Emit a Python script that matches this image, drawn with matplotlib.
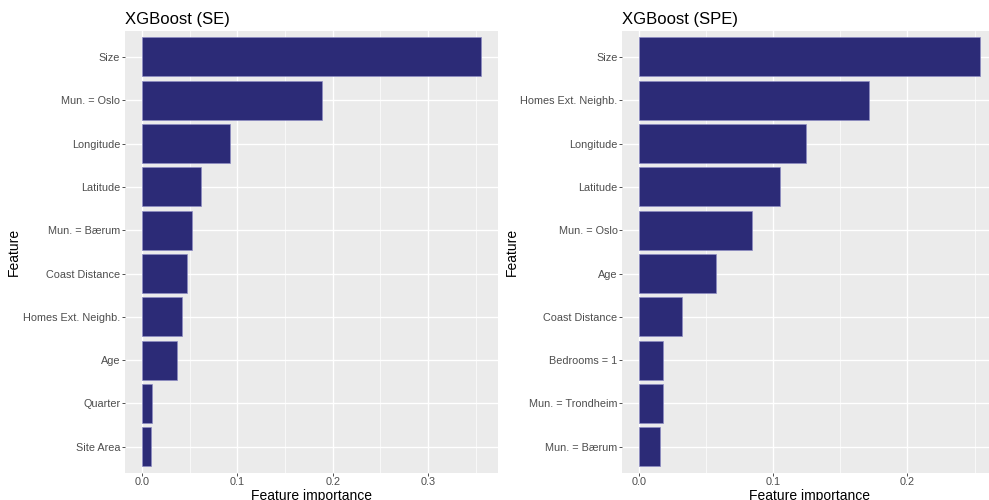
import matplotlib
matplotlib.use("Agg")
import matplotlib.pyplot as plt
from matplotlib.ticker import MultipleLocator, FormatStrFormatter

plt.rcParams['font.family'] = ['Liberation Sans', 'DejaVu Sans']

# XGBoost feature importance, SE model (top to bottom)
se_features = ["Size", "Mun. = Oslo", "Longitude", "Latitude", "Mun. = Bærum",
               "Coast Distance", "Homes Ext. Neighb.", "Age", "Quarter", "Site Area"]
se_importance = [0.356, 0.1885, 0.0922, 0.0618, 0.0527,
                 0.0471, 0.0416, 0.0364, 0.0105, 0.0090]

# XGBoost feature importance, SPE model (top to bottom)
spe_features = ["Size", "Homes Ext. Neighb.", "Longitude", "Latitude", "Mun. = Oslo",
                "Age", "Coast Distance", "Bedrooms = 1", "Mun. = Trondheim", "Mun. = Bærum"]
spe_importance = [0.2537, 0.1712, 0.1246, 0.1052, 0.0839,
                  0.0572, 0.0321, 0.0175, 0.0174, 0.0157]

titles = ["XGBoost (SE)", "XGBoost (SPE)"]

BAR = "#2c2b77"
PANEL = "#ebebeb"

fig = plt.figure(figsize=(9.89, 5.0), dpi=100)
ax_l = fig.add_axes([0.1264, 0.0546, 0.3775, 0.8834])
ax_r = fig.add_axes([0.6292, 0.0546, 0.3784, 0.8834])


def draw(ax, feats, vals, title, ylab_x):
    n = len(feats)
    ypos = list(range(n, 0, -1))
    ax.set_facecolor(PANEL)
    ax.barh(ypos, vals, height=0.9, color=BAR, edgecolor="#8d8cc4",
            linewidth=0.5, zorder=3)
    vmax = max(vals)
    ax.set_xlim(-0.05 * vmax, 1.05 * vmax)
    ax.set_ylim(0.4, n + 0.6)
    ax.set_yticks(ypos)
    ax.set_yticklabels(feats)
    ax.xaxis.set_major_locator(MultipleLocator(0.1))
    ax.xaxis.set_minor_locator(MultipleLocator(0.05))
    ax.xaxis.set_major_formatter(FormatStrFormatter('%.1f'))
    ax.grid(which="major", color="white", linewidth=1.0, zorder=0)
    ax.grid(which="minor", axis="x", color="white", linewidth=0.5, zorder=0)
    ax.set_axisbelow(True)
    for s in ax.spines.values():
        s.set_visible(False)
    ax.tick_params(axis="both", which="major", length=2.2, width=0.6,
                   color="#333333", labelsize=7.8, labelcolor="#4d4d4d", pad=1.2)
    ax.tick_params(axis="x", which="minor", length=0)
    ax.set_xlabel("Feature importance", fontsize=10, color="black", labelpad=1.0)
    ax.set_ylabel("Feature", fontsize=10, color="black")
    ax.yaxis.set_label_coords(ylab_x, 0.5)
    ax.set_title(title, loc="left", fontsize=12, pad=5, color="black")


draw(ax_l, se_features, se_importance, titles[0], -0.279)
draw(ax_r, spe_features, spe_importance, titles[1], -0.276)

fig.savefig("out.png", dpi=100, facecolor="white")
